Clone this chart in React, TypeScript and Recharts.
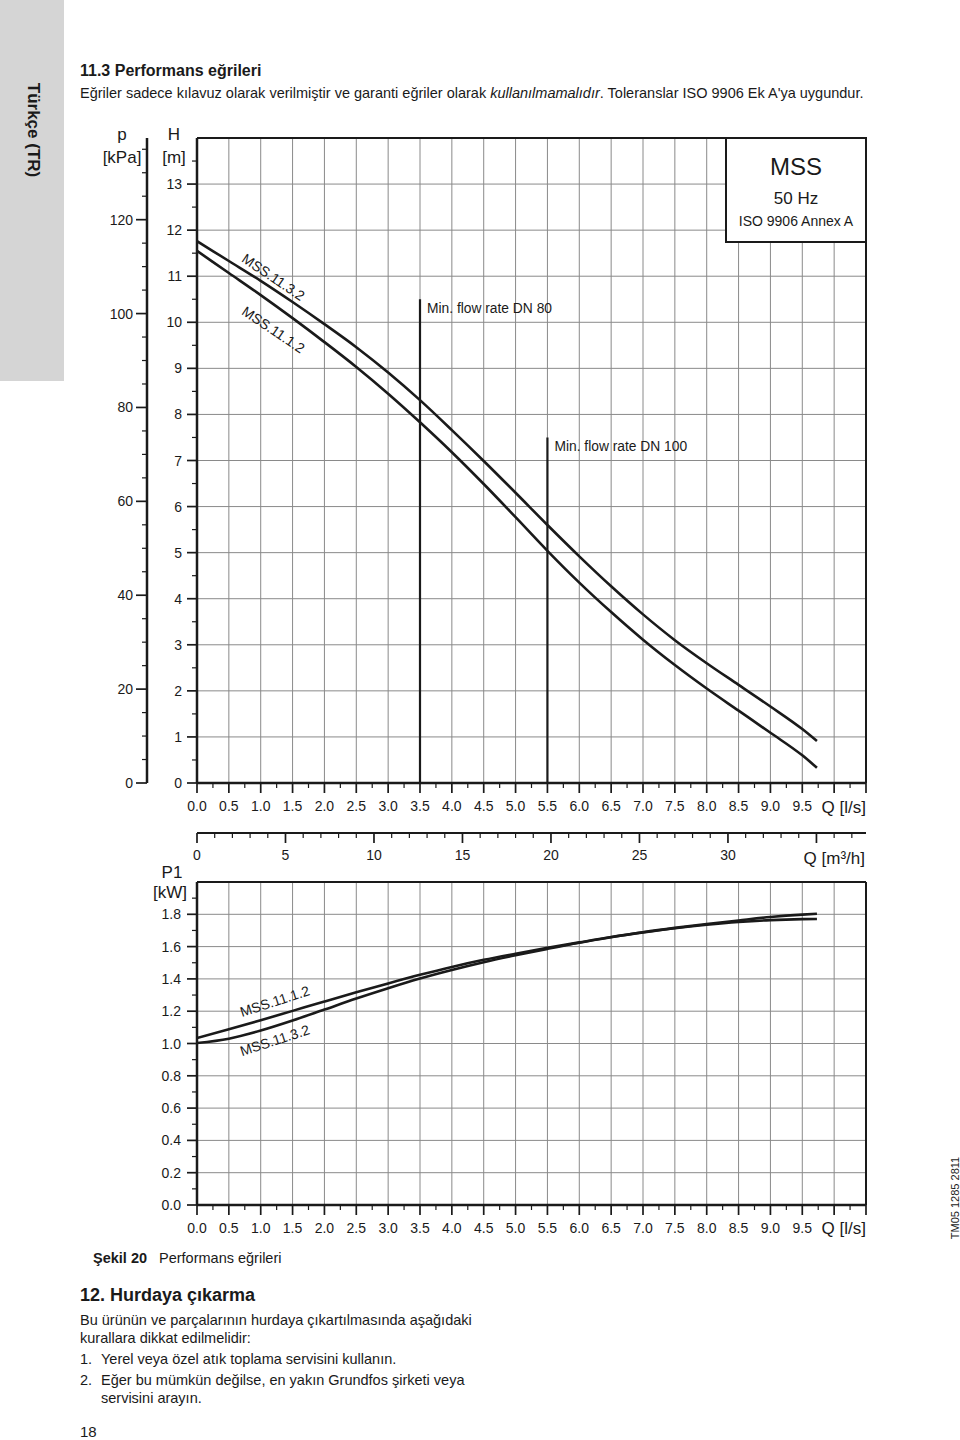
import React from 'react';
import { LineChart, Line, XAxis, YAxis, ReferenceLine, ReferenceDot } from 'recharts';

const FONT = '"Liberation Sans", Arial, Helvetica, sans-serif';
const INK = '#1a1a1a';
const GRID = '#8a8a8a';

// ---- data ----
const flowLs = [0, 0.5, 1.0, 1.5, 2.0, 2.5, 3.0, 3.5, 4.0, 4.5, 5.0, 5.5, 6.0, 6.5, 7.0, 7.5, 8.0, 8.5, 9.0, 9.5, 9.73];
const headMSS1132 = [11.76, 11.33, 10.90, 10.44, 9.96, 9.46, 8.91, 8.31, 7.66, 6.99, 6.30, 5.60, 4.92, 4.27, 3.66, 3.10, 2.60, 2.13, 1.66, 1.17, 0.91];
const headMSS1112 = [11.55, 11.07, 10.59, 10.09, 9.57, 9.03, 8.45, 7.83, 7.18, 6.49, 5.77, 5.04, 4.35, 3.71, 3.11, 2.56, 2.05, 1.57, 1.09, 0.60, 0.33];
const powerMSS1112 = [1.034, 1.088, 1.144, 1.202, 1.260, 1.317, 1.372, 1.425, 1.474, 1.518, 1.556, 1.592, 1.626, 1.659, 1.688, 1.714, 1.735, 1.752, 1.764, 1.770, 1.771];
const powerMSS1132 = [1.003, 1.030, 1.080, 1.142, 1.210, 1.278, 1.342, 1.402, 1.455, 1.503, 1.546, 1.586, 1.624, 1.658, 1.689, 1.716, 1.740, 1.762, 1.783, 1.798, 1.803];

const minFlowDN80 = { q: 3.5, h: 10.5, label: 'Min. flow rate DN 80' };
const minFlowDN100 = { q: 5.5, h: 7.5, label: 'Min. flow rate DN 100' };

const headLabels = [
  { name: 'MSS.11.3.2', q: 1.2, h: 10.98 },
  { name: 'MSS.11.1.2', q: 1.2, h: 9.84 },
];
const powerLabels = [
  { name: 'MSS.11.1.2', q: 1.22, p: 1.262 },
  { name: 'MSS.11.3.2', q: 1.22, p: 1.020 },
];

const LS_PER_M3H = 3.6;

// ---- axis tick positions / labels ----
const steps = (a: number, b: number, s: number) => {
  const out: number[] = [];
  const n = Math.round((b - a) / s);
  for (let i = 0; i <= n; i++) out.push(+(a + i * s).toFixed(4));
  return out;
};
const qTicks = steps(0, 10.5, 0.25);
const qLabelValues = [0, 0.5, 1.0, 1.5, 2.0, 2.5, 3.0, 3.5, 4.0, 4.5, 5.0, 5.5, 6.0, 6.5, 7.0, 7.5, 8.0, 8.5, 9.0, 9.5];
const qGrid = steps(0.5, 10.0, 0.5);
const hTicks = steps(0, 13.5, 0.5);
const hLabelValues = [0, 1, 2, 3, 4, 5, 6, 7, 8, 9, 10, 11, 12, 13];
const hGrid = steps(1, 13, 1);
const kpaTicks = steps(0, 135, 5);
const kpaLabelValues = [0, 20, 40, 60, 80, 100, 120];
const pTicks = steps(0, 1.9, 0.1);
const pLabelValues = [0, 0.2, 0.4, 0.6, 0.8, 1.0, 1.2, 1.4, 1.6, 1.8];
const pGrid = steps(0.2, 1.8, 0.2);
const m3Ticks = steps(0, 37, 1);
const m3LabelValues = [0, 5, 10, 15, 20, 25, 30];

const headRows = flowLs.map((q, i) => ({ q, h1132: headMSS1132[i], h1112: headMSS1112[i] }));
const powerRows = flowLs.map((q, i) => ({ q, p1112: powerMSS1112[i], p1132: powerMSS1132[i] }));

const near = (a: number, b: number) => Math.abs(a - b) < 1e-6;
const isMult = (v: number, s: number) => Math.abs(v / s - Math.round(v / s)) < 1e-6;

function makeBottomTick(labels: number[], majorStep: number, fmt: (v: number) => string, textDy: number) {
  return (props: any) => {
    const { x, y, payload } = props;
    const v = payload.value;
    const major = isMult(v, majorStep);
    const lab = labels.some((l) => near(l, v));
    return (
      <g>
        <line x1={x} x2={x} y1={y} y2={y + (major ? 10 : 5)} stroke={INK} strokeWidth={major ? 1.7 : 1.2} />
        {lab && (
          <text x={x} y={y + textDy} textAnchor="middle" fontSize={14} fontFamily={FONT} fill={INK}>
            {fmt(v)}
          </text>
        )}
      </g>
    );
  };
}

function makeLeftTick(labels: number[], majorStep: number, fmt: (v: number) => string, gap: number, majorLen: number) {
  return (props: any) => {
    const { x, y, payload } = props;
    const v = payload.value;
    const major = isMult(v, majorStep);
    const lab = labels.some((l) => near(l, v));
    return (
      <g>
        <line x1={x} x2={x - (major ? majorLen : 5)} y1={y} y2={y} stroke={INK} strokeWidth={major ? 1.7 : 1.2} />
        {lab && (
          <text x={x - gap} y={y + 5} textAnchor="end" fontSize={14} fontFamily={FONT} fill={INK}>
            {fmt(v)}
          </text>
        )}
      </g>
    );
  };
}

const QTick = makeBottomTick(qLabelValues, 0.5, (v) => v.toFixed(1), 28);
const M3Tick = makeBottomTick(m3LabelValues, 5, (v) => String(v), 27);
const HTick = makeLeftTick(hLabelValues, 1, (v) => String(v), 15, 10);
const KpaTick = makeLeftTick(kpaLabelValues, 20, (v) => String(v), 14, 11);
const PTick = makeLeftTick(pLabelValues, 0.2, (v) => v.toFixed(1), 16, 10);

const rotatedLabel = (text: string, angle: number) => (p: any) => (
  <text
    x={p.cx}
    y={p.cy}
    transform={`rotate(${angle} ${p.cx} ${p.cy})`}
    textAnchor="middle"
    dominantBaseline="central"
    fontSize={14}
    fontFamily={FONT}
    fill={INK}
  >
    {text}
  </text>
);

const flowLabel = (text: string) => (p: any) => (
  <text x={p.cx + 7} y={p.cy + 14} fontSize={13.8} fontFamily={FONT} fill={INK}>
    {text}
  </text>
);

function HeadChart() {
  return (
    <LineChart width={960} height={875} data={headRows} margin={{ top: 138, right: 94, bottom: 2, left: 87 }}>
      <XAxis
        xAxisId="ls"
        type="number"
        dataKey="q"
        domain={[0, 10.5]}
        ticks={qTicks}
        interval={0}
        height={50}
        tickSize={0}
        tickMargin={0}
        tickLine={false}
        tick={QTick}
        axisLine={{ stroke: INK, strokeWidth: 2.5 }}
        allowDataOverflow
      />
      <XAxis
        xAxisId="m3"
        type="number"
        dataKey={(r: any) => r.q * LS_PER_M3H}
        domain={[0, 10.5 * LS_PER_M3H]}
        ticks={m3Ticks}
        interval={0}
        height={40}
        tickSize={0}
        tickMargin={0}
        tickLine={false}
        tick={M3Tick}
        axisLine={{ stroke: INK, strokeWidth: 1.8 }}
        allowDataOverflow
      />
      <YAxis
        yAxisId="h"
        type="number"
        domain={[0, 14]}
        ticks={hTicks}
        interval={0}
        width={50}
        tickSize={0}
        tickMargin={0}
        tickLine={false}
        tick={HTick}
        axisLine={{ stroke: INK, strokeWidth: 2.5 }}
        allowDataOverflow
      />
      <YAxis
        yAxisId="kpa"
        type="number"
        domain={[0, 137.4]}
        ticks={kpaTicks}
        interval={0}
        width={60}
        tickSize={0}
        tickMargin={0}
        tickLine={false}
        tick={KpaTick}
        axisLine={{ stroke: INK, strokeWidth: 2.5 }}
        allowDataOverflow
      />
      {qGrid.map((q) => (
        <ReferenceLine key={'vx' + q} x={q} xAxisId="ls" yAxisId="h" stroke={GRID} strokeWidth={1} />
      ))}
      {hGrid.map((h) => (
        <ReferenceLine key={'hy' + h} y={h} xAxisId="ls" yAxisId="h" stroke={GRID} strokeWidth={1} />
      ))}
      <ReferenceLine y={14} xAxisId="ls" yAxisId="h" stroke={INK} strokeWidth={2} />
      <ReferenceLine x={10.5} xAxisId="ls" yAxisId="h" stroke={INK} strokeWidth={2} />
      {[minFlowDN80, minFlowDN100].map((m) => (
        <ReferenceLine
          key={m.label}
          xAxisId="ls"
          yAxisId="h"
          segment={[{ x: m.q, y: 0 }, { x: m.q, y: m.h }]}
          stroke={INK}
          strokeWidth={2.2}
        />
      ))}
      {[minFlowDN80, minFlowDN100].map((m) => (
        <ReferenceDot key={'l' + m.label} xAxisId="ls" yAxisId="h" x={m.q} y={m.h} r={0} shape={flowLabel(m.label)} />
      ))}
      <Line xAxisId="ls" yAxisId="h" type="monotone" dataKey="h1132" stroke={INK} strokeWidth={2.6} dot={false} activeDot={false} isAnimationActive={false} />
      <Line xAxisId="ls" yAxisId="h" type="monotone" dataKey="h1112" stroke={INK} strokeWidth={2.6} dot={false} activeDot={false} isAnimationActive={false} />
      {headLabels.map((l) => (
        <ReferenceDot key={'hl' + l.name} xAxisId="ls" yAxisId="h" x={l.q} y={l.h} r={0} shape={rotatedLabel(l.name, 34)} />
      ))}
    </LineChart>
  );
}

function PowerChart() {
  return (
    <LineChart width={960} height={385} data={powerRows} margin={{ top: 22, right: 94, bottom: 0, left: 147 }}>
      <XAxis
        xAxisId="ls"
        type="number"
        dataKey="q"
        domain={[0, 10.5]}
        ticks={qTicks}
        interval={0}
        height={40}
        tickSize={0}
        tickMargin={0}
        tickLine={false}
        tick={QTick}
        axisLine={{ stroke: INK, strokeWidth: 2.5 }}
        allowDataOverflow
      />
      <YAxis
        yAxisId="p"
        type="number"
        domain={[0, 2]}
        ticks={pTicks}
        interval={0}
        width={50}
        tickSize={0}
        tickMargin={0}
        tickLine={false}
        tick={PTick}
        axisLine={{ stroke: INK, strokeWidth: 2.5 }}
        allowDataOverflow
      />
      {qGrid.map((q) => (
        <ReferenceLine key={'vx' + q} x={q} xAxisId="ls" yAxisId="p" stroke={GRID} strokeWidth={1} />
      ))}
      {pGrid.map((p) => (
        <ReferenceLine key={'py' + p} y={p} xAxisId="ls" yAxisId="p" stroke={GRID} strokeWidth={1} />
      ))}
      <ReferenceLine y={2} xAxisId="ls" yAxisId="p" stroke={INK} strokeWidth={2} />
      <ReferenceLine x={10.5} xAxisId="ls" yAxisId="p" stroke={INK} strokeWidth={2} />
      <Line xAxisId="ls" yAxisId="p" type="monotone" dataKey="p1112" stroke={INK} strokeWidth={2.6} dot={false} activeDot={false} isAnimationActive={false} />
      <Line xAxisId="ls" yAxisId="p" type="monotone" dataKey="p1132" stroke={INK} strokeWidth={2.6} dot={false} activeDot={false} isAnimationActive={false} />
      {powerLabels.map((l) => (
        <ReferenceDot key={'pl' + l.name} xAxisId="ls" yAxisId="p" x={l.q} y={l.p} r={0} shape={rotatedLabel(l.name, -18)} />
      ))}
    </LineChart>
  );
}

export default function App() {
  return (
    <div style={{ position: 'absolute', left: 0, top: 0, width: 960, height: 1440, background: '#fff', fontFamily: FONT, overflow: 'hidden' }}>
      <div style={{ position: 'absolute', left: 0, top: 0 }}>
        <HeadChart />
      </div>
      <div style={{ position: 'absolute', left: 0, top: 860 }}>
        <PowerChart />
      </div>
      <svg width={960} height={1440} style={{ position: 'absolute', left: 0, top: 0, pointerEvents: 'none' }} fontFamily={FONT} fill={INK}>
        <rect x={0} y={0} width={64} height={381} fill="#d5d5d5" />
        <text transform="translate(33 130) rotate(90)" textAnchor="middle" dominantBaseline="central" fontSize={17} fontWeight="bold">
          Türkçe (TR)
        </text>
        <text x={80} y={76} fontSize={16} fontWeight="bold">11.3 Performans eğrileri</text>
        <text x={80} y={98} fontSize={14.5}>
          Eğriler sadece kılavuz olarak verilmiştir ve garanti eğriler olarak <tspan fontStyle="italic">kullanılmamalıdır</tspan>. Toleranslar ISO 9906 Ek A'ya uygundur.
        </text>

        <text x={122} y={140} fontSize={17} textAnchor="middle">p</text>
        <text x={122} y={163} fontSize={17} textAnchor="middle">[kPa]</text>
        <text x={174} y={140} fontSize={17} textAnchor="middle">H</text>
        <text x={174} y={163} fontSize={17} textAnchor="middle">[m]</text>

        <rect x={726} y={138} width={140} height={104} fill="#fff" stroke={INK} strokeWidth={2} />
        <text x={796} y={175} fontSize={24} textAnchor="middle">MSS</text>
        <text x={796} y={204} fontSize={17} textAnchor="middle">50 Hz</text>
        <text x={796} y={226} fontSize={14} textAnchor="middle">ISO 9906 Annex A</text>

        <text x={866} y={813} fontSize={17} textAnchor="end">Q [l/s]</text>
        <text x={865} y={864} fontSize={17} textAnchor="end">Q [m³/h]</text>
        <text x={172} y={878} fontSize={17} textAnchor="middle">P1</text>
        <text x={170} y={898} fontSize={17} textAnchor="middle">[kW]</text>
        <text x={866} y={1234} fontSize={17} textAnchor="end">Q [l/s]</text>

        <text transform="translate(955 1198) rotate(-90)" textAnchor="middle" dominantBaseline="central" fontSize={11}>
          TM05 1285 2811
        </text>

        <text x={93} y={1263} fontSize={14.5}>
          <tspan fontWeight="bold">Şekil 20</tspan>
          <tspan x={159}>Performans eğrileri</tspan>
        </text>
        <text x={80} y={1301} fontSize={18} fontWeight="bold">12. Hurdaya çıkarma</text>
        <text x={80} y={1325} fontSize={14.5}>Bu ürünün ve parçalarının hurdaya çıkartılmasında aşağıdaki</text>
        <text x={80} y={1343} fontSize={14.5}>kurallara dikkat edilmelidir:</text>
        <text x={80} y={1364} fontSize={14.5}>1.</text>
        <text x={101} y={1364} fontSize={14.5}>Yerel veya özel atık toplama servisini kullanın.</text>
        <text x={80} y={1385} fontSize={14.5}>2.</text>
        <text x={101} y={1385} fontSize={14.5}>Eğer bu mümkün değilse, en yakın Grundfos şirketi veya</text>
        <text x={101} y={1403} fontSize={14.5}>servisini arayın.</text>
        <text x={80} y={1437} fontSize={15}>18</text>
      </svg>
    </div>
  );
}
